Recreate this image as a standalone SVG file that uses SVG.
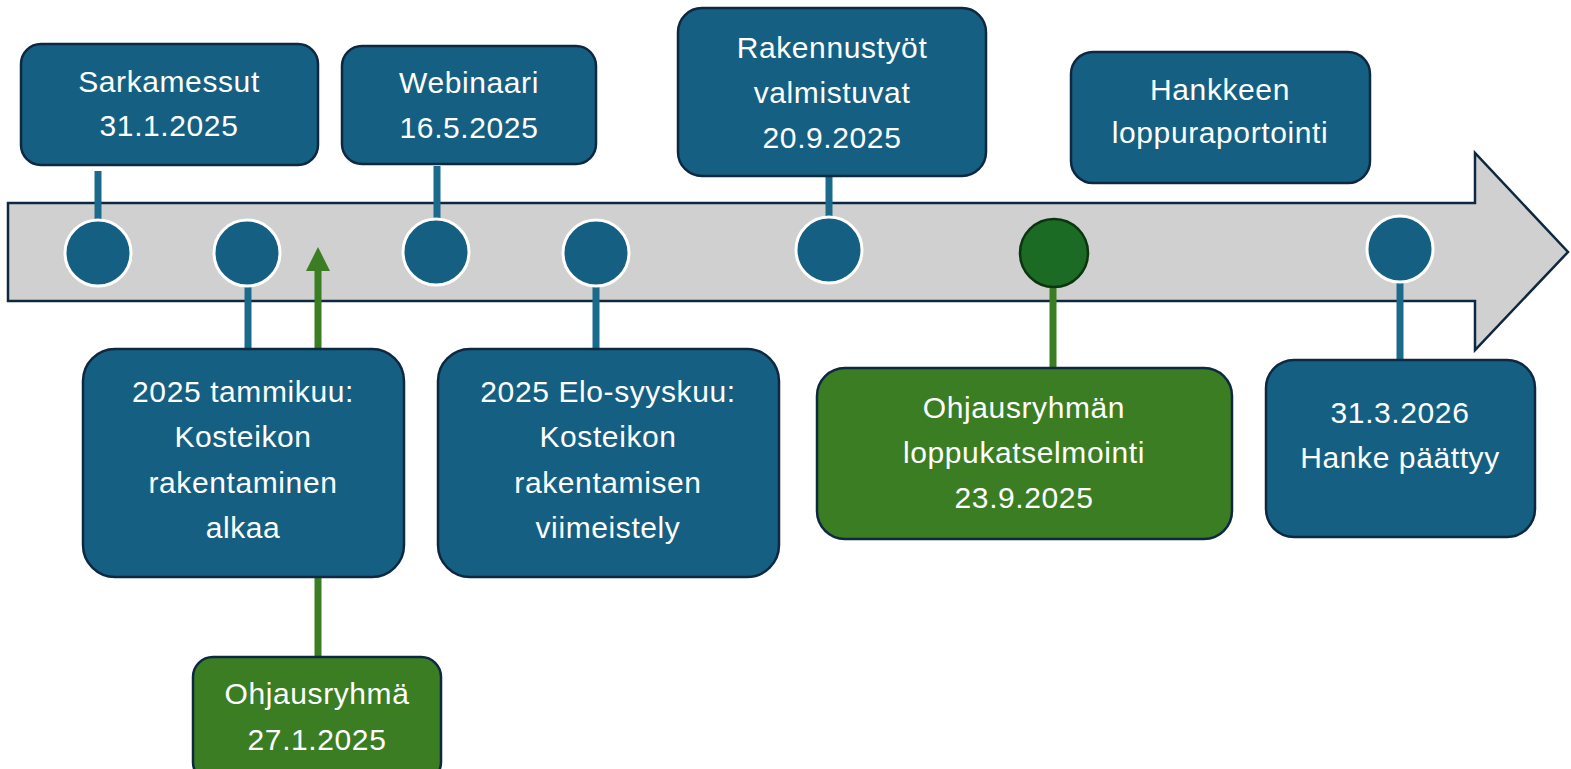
<svg xmlns="http://www.w3.org/2000/svg" width="1571" height="769" viewBox="0 0 1571 769">
<style>
.box{fill:#156082;stroke:#0E2841;stroke-width:2.5}
.gbox{fill:#3B7D23;stroke:#0E2841;stroke-width:2.5}
.dot{fill:#156082;stroke:#FFFFFF;stroke-width:3}
.gdot{fill:#1C6B24;stroke:#0B3510;stroke-width:2.5}
.ln{stroke:#1A6A8C;stroke-width:7;fill:none}
.gln{stroke:#3B7D23;stroke-width:7;fill:none}
text{font-family:"Liberation Sans",Arial,sans-serif;font-size:30px;letter-spacing:0.6px;fill:#FFFFFF;text-anchor:middle}
</style>
<g id="timeline">
<path d="M8,203 L1475,203 L1475,153 L1568,252 L1475,350 L1475,301 L8,301 Z" fill="#D0D0D0" stroke="#0E2841" stroke-width="2.5"/>
</g>
<g id="connectors">
<line class="ln" x1="98" y1="171" x2="98" y2="222"/>
<line class="ln" x1="248" y1="284" x2="248" y2="349"/>
<line class="ln" x1="437" y1="166" x2="437" y2="220"/>
<line class="ln" x1="596" y1="284" x2="596" y2="349"/>
<line class="ln" x1="829" y1="177" x2="829" y2="218"/>
<line class="ln" x1="1400" y1="280" x2="1400" y2="360"/>
<line class="gln" x1="1053" y1="278" x2="1053" y2="368"/>
<line class="gln" x1="318" y1="350" x2="318" y2="268"/>
<polygon points="306,271 330,271 318,247" fill="#3B7D23"/>
<line class="gln" x1="318" y1="577" x2="318" y2="657"/>
</g>
<g id="dots">
<circle class="dot" cx="98" cy="253" r="33"/>
<circle class="dot" cx="247" cy="253" r="33"/>
<circle class="dot" cx="436" cy="252" r="33"/>
<circle class="dot" cx="596" cy="253" r="33"/>
<circle class="dot" cx="829" cy="250" r="33"/>
<circle class="gdot" cx="1054" cy="253" r="34"/>
<circle class="dot" cx="1400" cy="249" r="33"/>
</g>
<g id="n1"><rect class="box" x="21" y="44" width="297" height="121" rx="20"/><text x="169" y="92">Sarkamessut</text><text x="169" y="136">31.1.2025</text></g>
<g id="n2"><rect class="box" x="342" y="46" width="254" height="118" rx="20"/><text x="469" y="93">Webinaari</text><text x="469" y="138">16.5.2025</text></g>
<g id="n3"><rect class="box" x="678" y="8" width="308" height="168" rx="24"/><text x="832" y="58">Rakennustyöt</text><text x="832" y="103">valmistuvat</text><text x="832" y="148">20.9.2025</text></g>
<g id="n4"><rect class="box" x="1071" y="52" width="299" height="131" rx="22"/><text x="1220" y="100">Hankkeen</text><text x="1220" y="143">loppuraportointi</text></g>
<g id="n5"><rect class="box" x="83" y="349" width="321" height="228" rx="32"/><text x="243" y="402">2025 tammikuu:</text><text x="243" y="447">Kosteikon</text><text x="243" y="493">rakentaminen</text><text x="243" y="538">alkaa</text></g>
<g id="n6"><rect class="box" x="438" y="349" width="341" height="228" rx="32"/><text x="608" y="402">2025 Elo-syyskuu:</text><text x="608" y="447">Kosteikon</text><text x="608" y="493">rakentamisen</text><text x="608" y="538">viimeistely</text></g>
<g id="n7"><rect class="gbox" x="817" y="368" width="415" height="171" rx="28"/><text x="1024" y="418">Ohjausryhmän</text><text x="1024" y="463">loppukatselmointi</text><text x="1024" y="508">23.9.2025</text></g>
<g id="n8"><rect class="box" x="1266" y="360" width="269" height="177" rx="28"/><text x="1400" y="423">31.3.2026</text><text x="1400" y="468">Hanke päättyy</text></g>
<g id="n9"><rect class="gbox" x="193" y="657" width="248" height="125" rx="20"/><text x="317" y="704">Ohjausryhmä</text><text x="317" y="750">27.1.2025</text></g>
</svg>
